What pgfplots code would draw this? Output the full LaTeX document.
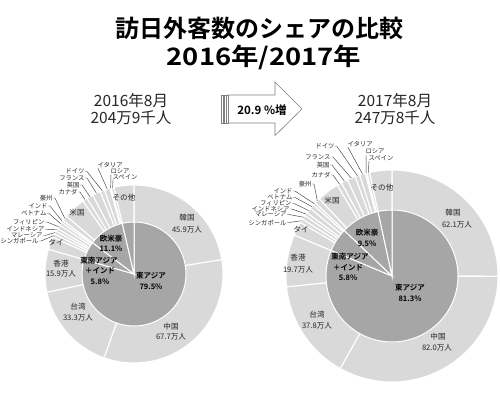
\documentclass[border=0pt]{standalone}
\usepackage{fontspec}
\setmainfont{Noto Sans CJK JP}[BoldFont={* Bold}]
\usepackage{pgfplots}
\pgfplotsset{compat=1.18}
\definecolor{outc}{HTML}{D9D9D9}
\definecolor{inc}{HTML}{A6A6A6}
\definecolor{leadc}{HTML}{404040}
\definecolor{txt}{HTML}{262626}
\tikzset{
  outs/.style={fill=outc,draw=white,line width=1.1pt},
  ins/.style={fill=inc,draw=white,line width=1pt},
  sl/.style={font=\fontsize{6.3}{7}\selectfont,inner sep=0.4pt,text=txt},
  rls/.style={font=\fontsize{7.6}{8}\selectfont,inner sep=0pt,text=txt},
  gls/.style={font=\bfseries\fontsize{7.5}{8}\selectfont,inner sep=0pt,text=black},
}
\makeatletter
\newcommand\pieinit[4]{\xdef\pcx{#1}\xdef\pcy{#2}\xdef\pR{#3}\xdef\ptot{#4}\xdef\pcum{0}}
\newcommand\slice[4]{% id, value, radius, style
  \pgfmathsetmacro\a@s{90-(\pcum/\ptot)*360}%
  \pgfmathsetmacro\n@c{\pcum+#2}%
  \pgfmathsetmacro\a@e{90-(\n@c/\ptot)*360}%
  \pgfmathsetmacro\a@m{(\a@s+\a@e)/2}%
  \xdef\pcum{\n@c}%
  \pgfmathsetmacro\m@x{\pcx+\pR*cos(\a@m)}%
  \pgfmathsetmacro\m@y{\pcy-\pR*sin(\a@m)}%
  \expandafter\xdef\csname mx@#1\endcsname{\m@x}%
  \expandafter\xdef\csname my@#1\endcsname{\m@y}%
  \edef\tmp{\noexpand\addplot[#4, domain=\a@e:\a@s, samples=60]
     ({\pcx+#3*cos(x)},{\pcy-#3*sin(x)}) -- (axis cs:\pcx,\pcy) -- cycle;}%
  \tmp}
\newcommand\leadE[4]{% id, x, y, text (x,y = right end of label)
  \node[sl,anchor=east] (n#1) at (axis cs:#2,#3) {#4};
  \edef\tmp{\noexpand\draw[leadc,line width=0.45pt] (n#1.east) -- ++(2pt,0) -- (axis cs:\csname mx@#1\endcsname,\csname my@#1\endcsname);}\tmp}
\newcommand\leadW[4]{% id, x, y, text (x,y = left end of label)
  \node[sl,anchor=west] (n#1) at (axis cs:#2,#3) {#4};
  \edef\tmp{\noexpand\draw[leadc,line width=0.45pt] ([xshift=1pt]n#1.south west) -- (axis cs:\csname mx@#1\endcsname,\csname my@#1\endcsname);}\tmp}
\makeatother
\newcommand\rl[3]{\node[rls] at (axis cs:#1,#2) {#3};}
\newcommand\gl[3]{\node[gls] at (axis cs:#1,#2) {#3};}
\begin{document}
\begin{tikzpicture}
\begin{axis}[width=500pt,height=397pt,scale only axis,
  xmin=0,xmax=500,ymin=0,ymax=397,y dir=reverse,hide axis,clip=false]
\path (axis cs:0,0) (axis cs:500,397);
% ---------- 2016 ----------
\pieinit{134}{274}{89}{204.8}
\slice{Lkor}{45.9}{89}{outs}
\slice{Lchn}{67.7}{89}{outs}
\slice{Ltwn}{33.3}{89}{outs}
\slice{Lhkg}{15.9}{89}{outs}
\slice{Ltha}{4.7}{89}{outs}
\slice{Lsgp}{1.3}{89}{outs}
\slice{Lmys}{1.2}{89}{outs}
\slice{Lidn}{1.1}{89}{outs}
\slice{Lphl}{1.5}{89}{outs}
\slice{Lvnm}{1.2}{89}{outs}
\slice{Lind}{0.9}{89}{outs}
\slice{Laus}{2.0}{89}{outs}
\slice{Lusa}{8.2}{89}{outs}
\slice{Lcan}{1.8}{89}{outs}
\slice{Lgbr}{2.4}{89}{outs}
\slice{Lfra}{3.0}{89}{outs}
\slice{Ldeu}{1.7}{89}{outs}
\slice{Lita}{2.1}{89}{outs}
\slice{Lrus}{0.5}{89}{outs}
\slice{Lesp}{1.0}{89}{outs}
\slice{Loth}{7.4}{89}{outs}
\xdef\pcum{0}
\slice{Lea}{162.8}{52}{ins}
\slice{Lsea}{11.9}{52}{ins}
\slice{Leu}{22.7}{52}{ins}
\slice{Lo2}{7.4}{52}{ins}
% ---------- 2017 ----------
\pieinit{392}{276}{106}{247.9}
\slice{Rkor}{62.1}{106}{outs}
\slice{Rchn}{82.0}{106}{outs}
\slice{Rtwn}{37.8}{106}{outs}
\slice{Rhkg}{19.7}{106}{outs}
\slice{Rtha}{5.2}{106}{outs}
\slice{Rsgp}{1.5}{106}{outs}
\slice{Rmys}{1.6}{106}{outs}
\slice{Ridn}{1.3}{106}{outs}
\slice{Rphl}{2.0}{106}{outs}
\slice{Rvnm}{1.8}{106}{outs}
\slice{Rind}{1.0}{106}{outs}
\slice{Raus}{2.1}{106}{outs}
\slice{Rusa}{8.4}{106}{outs}
\slice{Rcan}{1.8}{106}{outs}
\slice{Rgbr}{2.5}{106}{outs}
\slice{Rfra}{3.1}{106}{outs}
\slice{Rdeu}{1.8}{106}{outs}
\slice{Rita}{2.2}{106}{outs}
\slice{Rrus}{0.6}{106}{outs}
\slice{Resp}{1.0}{106}{outs}
\slice{Roth}{8.4}{106}{outs}
\xdef\pcum{0}
\slice{Rea}{201.6}{66}{ins}
\slice{Rsea}{14.4}{66}{ins}
\slice{Reu}{23.5}{66}{ins}
\slice{Ro2}{8.4}{66}{ins}
% ---------- titles ----------
\node[font=\bfseries\fontsize{24}{26}\selectfont] at (axis cs:259,28) {訪日外客数のシェアの比較};
\node[font=\bfseries\fontsize{24}{26}\selectfont,xscale=1.14,transform shape] at (axis cs:264,57) {2016年/2017年};
\node[font=\fontsize{15.5}{17}\selectfont,text=txt] at (axis cs:131,101) {2016年8月};
\node[font=\fontsize{15.5}{17}\selectfont,text=txt] at (axis cs:131,117.5) {204万9千人};
\node[font=\fontsize{15.5}{17}\selectfont,text=txt] at (axis cs:395,101) {2017年8月};
\node[font=\fontsize{15.5}{17}\selectfont,text=txt] at (axis cs:395,117.5) {247万8千人};
% arrow
\draw[gray,line width=0.6pt,fill=white] (axis cs:228.5,95) -- (axis cs:275,95) -- (axis cs:275,82) -- (axis cs:302,109) -- (axis cs:275,135.5) -- (axis cs:275,123) -- (axis cs:228.5,123) -- cycle;
\draw[gray,line width=0.5pt,fill=white] (axis cs:220.8,95) rectangle (axis cs:222.8,123);
\draw[gray,line width=0.5pt,fill=white] (axis cs:223.8,95) rectangle (axis cs:225.8,123);
\draw[gray,line width=0.5pt,fill=white] (axis cs:226.6,95) rectangle (axis cs:228.5,123);
\node[font=\bfseries\fontsize{11.5}{12}\selectfont] at (axis cs:262,110) {20.9 \%増};
% ---------- 2016 labels ----------
\rl{187}{218}{韓国}\rl{187}{230}{45.9万人}
\rl{171}{327}{中国}\rl{171}{337}{67.7万人}
\rl{78}{307}{台湾}\rl{78}{318}{33.3万人}
\rl{61}{264}{香港}\rl{61}{274}{15.9万人}
\rl{77}{213}{米国}
\rl{124}{198}{その他}
\rl{56}{243}{タイ}
\gl{151}{276}{東アジア}\gl{151}{287}{79.5\%}
\gl{99}{261}{東南アジア}\gl{100}{271}{＋インド}\gl{100}{282}{5.8\%}
\gl{111}{239}{欧米豪}\gl{111}{249}{11.1\%}
\leadE{Laus}{53}{198}{豪州}
\leadE{Lind}{48}{206}{インド}
\leadE{Lvnm}{47}{213.5}{ベトナム}
\leadE{Lphl}{45}{222}{フィリピン}
\leadE{Lidn}{45}{229.5}{インドネシア}
\leadE{Lmys}{43}{235.5}{マレーシア}
\leadE{Lsgp}{39}{241}{シンガポール}
\leadE{Lcan}{78}{192}{カナダ}
\leadE{Lgbr}{80}{185}{英国}
\leadE{Lfra}{85}{178}{フランス}
\leadE{Ldeu}{85}{171.5}{ドイツ}
\leadW{Lita}{97}{165}{イタリア}
\leadW{Lrus}{110}{171}{ロシア}
\leadW{Lesp}{112}{177}{スペイン}
% ---------- 2017 labels ----------
\rl{453}{213}{韓国}\rl{457}{225}{62.1万人}
\rl{438}{337}{中国}\rl{437}{348}{82.0万人}
\rl{317}{315}{台湾}\rl{317}{326}{37.8万人}
\rl{298}{258}{香港}\rl{298}{270}{19.7万人}
\rl{332}{201}{米国}
\rl{382}{188}{その他}
\rl{301}{230}{タイ}
\gl{410}{288}{東アジア}\gl{410}{299}{81.3\%}
\gl{350}{257}{東南アジア}\gl{348}{268}{＋インド}\gl{348}{278}{5.8\%}
\gl{367}{233}{欧米豪}\gl{367}{244}{9.5\%}
\leadE{Raus}{312}{184}{豪州}
\leadE{Rind}{293}{191}{インド}
\leadE{Rvnm}{293}{197.5}{ベトナム}
\leadE{Rphl}{292}{203.5}{フィリピン}
\leadE{Ridn}{290}{209}{インドネシア}
\leadE{Rmys}{287}{214.5}{マレーシア}
\leadE{Rsgp}{287}{222.5}{シンガポール}
\leadE{Rcan}{331}{175}{カナダ}
\leadE{Rgbr}{330}{165}{英国}
\leadE{Rfra}{331}{157}{フランス}
\leadE{Rdeu}{335}{146.5}{ドイツ}
\leadW{Rita}{347}{144}{イタリア}
\leadW{Rrus}{365}{151.5}{ロシア}
\leadW{Resp}{368}{158}{スペイン}
\end{axis}
\end{tikzpicture}
\end{document}
